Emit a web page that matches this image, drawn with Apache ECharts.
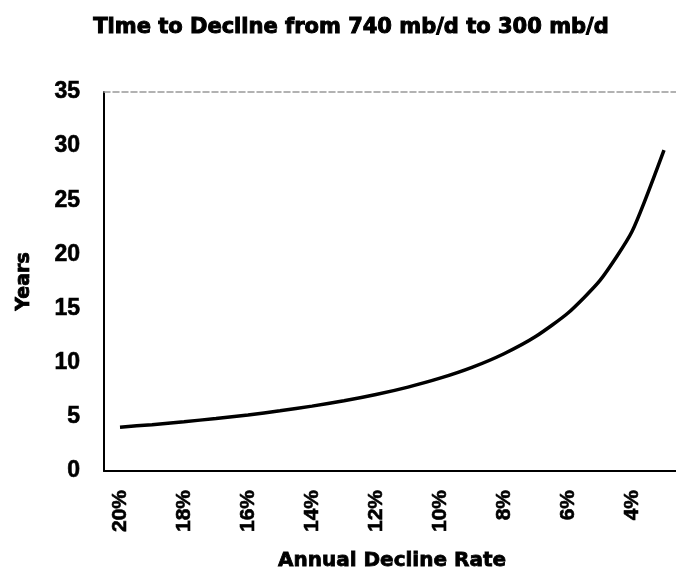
<!DOCTYPE html>
<html>
<head>
<meta charset="utf-8">
<script src="https://cdn.jsdelivr.net/npm/echarts@6/dist/echarts.min.js"></script>
<style>
html,body{margin:0;padding:0;background:#fff;}
#chart{width:676px;height:574px;}
</style>
</head>
<body>
<div id="chart"></div>
<script>
const categories = ['20%','19%','18%','17%','16%','15%','14%','13%','12%','11%','10%','9%','8%','7%','6%','5%','4%','3%'];
const years = [4.05, 4.28, 4.55, 4.85, 5.18, 5.56, 5.99, 6.48, 7.06, 7.75, 8.57, 9.57, 10.83, 12.44, 14.59, 17.6, 22.12, 29.64];
const yTicks = [0, 5, 10, 15, 20, 25, 30, 35];

const chart = echarts.init(document.getElementById('chart'));
const font = 'Liberation Sans, Arial, sans-serif';
const wide = 'DejaVu Sans, Liberation Sans, sans-serif';
chart.setOption({
  animation: false,
  backgroundColor: '#ffffff',
  title: {
    text: 'Time to Decline from 740 mb/d to 300 mb/d',
    left: 346, top: 12, textAlign: 'center',
    textStyle: {fontFamily: wide, fontWeight: 'bold', fontSize: 21, color: '#000',
      textBorderColor: '#000', textBorderWidth: 1}
  },
  grid: {left: 104, right: -4, top: 92, bottom: 103, outerBoundsMode: 'none', containLabel: false},
  xAxis: [{
    type: 'category',
    data: categories,
    boundaryGap: true,
    name: 'Annual Decline Rate',
    nameLocation: 'middle',
    nameGap: 80,
    nameTextStyle: {fontFamily: wide, fontWeight: 'bold', fontSize: 20, color: '#000',
      textBorderColor: '#000', textBorderWidth: 0.8},
    axisLine: {lineStyle: {color: '#000', width: 2}},
    axisTick: {show: false},
    axisLabel: {
      interval: 1, rotate: 90, margin: 19,
      fontFamily: font, fontWeight: 'bold', fontSize: 21, color: '#000',
      textBorderColor: '#000', textBorderWidth: 0.6
    }
  }, {
    type: 'category',
    data: categories,
    position: 'top',
    axisLine: {lineStyle: {color: '#999', width: 1.5, type: 'dashed'}},
    axisTick: {show: false},
    axisLabel: {show: false}
  }],
  yAxis: {
    type: 'value',
    min: yTicks[0], max: yTicks[yTicks.length - 1], interval: 5,
    name: 'Years',
    nameLocation: 'middle',
    nameGap: 70,
    nameTextStyle: {fontFamily: wide, fontWeight: 'bold', fontSize: 19, color: '#000',
      textBorderColor: '#000', textBorderWidth: 0.8},
    axisLine: {show: true, lineStyle: {color: '#000', width: 2}},
    axisTick: {show: false},
    splitLine: {show: false},
    axisLabel: {margin: 24, fontFamily: font, fontWeight: 'bold', fontSize: 23, color: '#000',
      textBorderColor: '#000', textBorderWidth: 0.6}
  },
  series: [{
    type: 'line',
    data: years,
    symbol: 'none',
    smooth: 0.2,
    lineStyle: {color: '#000', width: 3.5}
  }]
});
</script>
</body>
</html>
